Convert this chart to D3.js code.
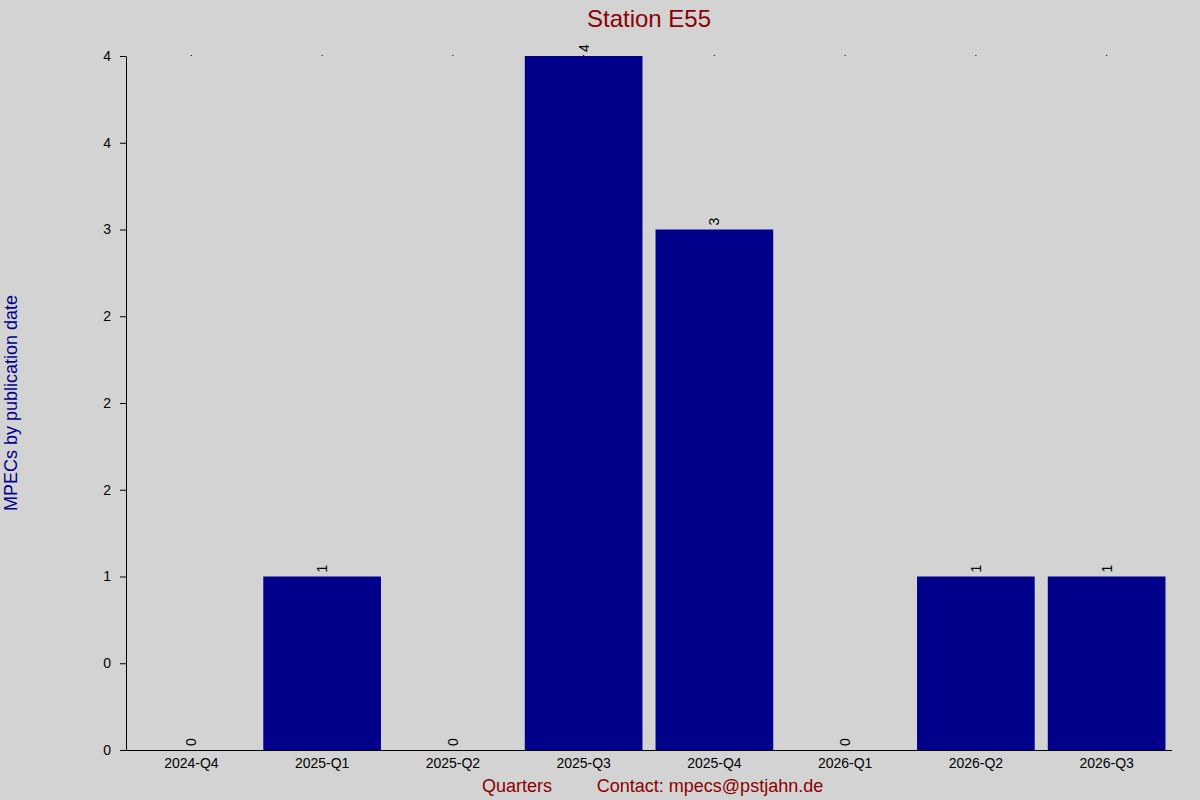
<!DOCTYPE html>
<html><head><meta charset="utf-8">
<script src="https://cdn.jsdelivr.net/npm/d3@7"></script>
<style>body{margin:0;background:#d3d3d3;}svg{display:block;font-family:Arial,"Liberation Sans",sans-serif;}</style>
</head><body><svg id="c" width="1200" height="800"></svg>
<script>
const categories=["2024-Q4","2025-Q1","2025-Q2","2025-Q3","2025-Q4","2026-Q1","2026-Q2","2026-Q3"];
const values=[0,1,0,4,3,0,1,1];
const tickValues=[0,0.5,1,1.5,2,2.5,3,3.5,4];
const tickLabels=["0","0","1","2","2","2","3","4","4"];
const svg=d3.select("#c");
svg.append("rect").attr("width",1200).attr("height",800).attr("fill","#d3d3d3");
const L=126,R=1172,T=56,B=750;
const x=d3.scaleBand().domain(categories).range([L,R]).paddingInner(0.1).paddingOuter(0.05);
const y=d3.scaleLinear().domain([0,4]).range([B,T]);
svg.selectAll(".bar").data(values).enter().append("rect")
 .attr("x",(d,i)=>x(categories[i])).attr("width",x.bandwidth())
 .attr("y",d=>y(d)).attr("height",d=>B-y(d)).attr("fill","#00008b");
svg.selectAll(".vl").data(values).enter().append("text")
 .attr("transform",(d,i)=>`translate(${x(categories[i])+x.bandwidth()/2+5},${y(d)-4}) rotate(-90)`)
 .attr("font-size",14).attr("fill","#000").text(d=>d);
svg.selectAll(".dot").data(categories).enter().append("rect")
 .attr("x",d=>x(d)+x.bandwidth()/2-0.5).attr("y",T-1).attr("width",1).attr("height",1).attr("fill","#000");
const ya=svg.append("g").attr("transform",`translate(${L},0)`)
 .call(d3.axisLeft(y).tickValues(tickValues).tickFormat((d,i)=>tickLabels[i]).tickSize(6).tickSizeOuter(0));
ya.selectAll("text").attr("font-size",14).attr("fill","#000").attr("dx",-6);
ya.select(".domain").attr("stroke","#000");
const xa=svg.append("g").attr("transform",`translate(0,${B})`)
 .call(d3.axisBottom(x).tickSize(0).tickSizeOuter(0));
xa.selectAll("text").attr("font-size",14).attr("fill","#000").attr("dy","1.1em");
xa.select(".domain").attr("stroke","#000").attr("d",`M${L},0.5H${R}`);
svg.append("text").attr("x",649).attr("y",27).attr("text-anchor","middle").attr("font-size",24).attr("fill","#8b0000").text("Station E55");
svg.append("text").attr("x",517).attr("y",792).attr("text-anchor","middle").attr("font-size",18).attr("fill","#8b0000").text("Quarters");
svg.append("text").attr("x",710).attr("y",792).attr("text-anchor","middle").attr("font-size",18).attr("fill","#8b0000").text("Contact: mpecs@pstjahn.de");
svg.append("text").attr("transform","translate(17,403) rotate(-90)").attr("text-anchor","middle").attr("font-size",18).attr("fill","#00008b").text("MPECs by publication date");
</script></body></html>
